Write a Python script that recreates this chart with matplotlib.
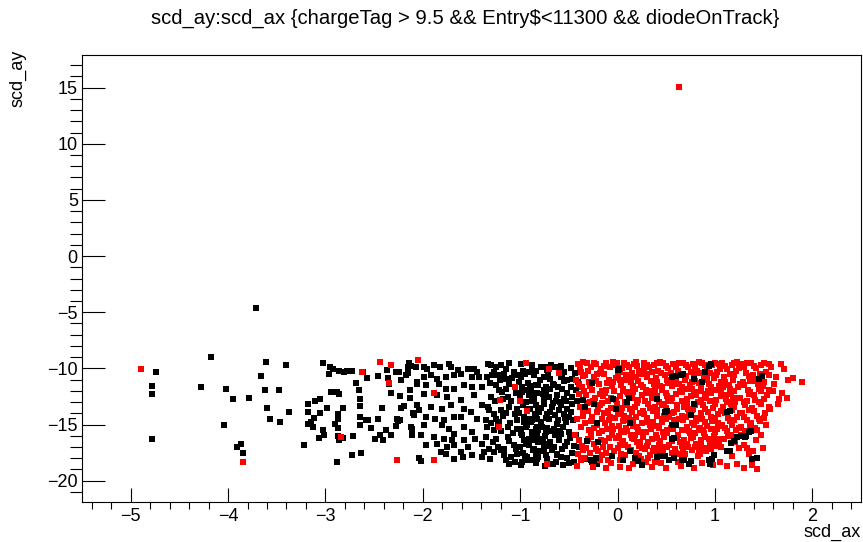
import matplotlib
matplotlib.use('Agg')
import matplotlib.pyplot as plt
from matplotlib.ticker import MultipleLocator

plt.rcParams['font.family'] = ['Liberation Sans', 'DejaVu Sans']

title = 'scd_ay:scd_ax {chargeTag > 9.5 && Entry$<11300 && diodeOnTrack}'

# (scd_ax, scd_ay) pairs, split by region of the scatter
black_far = [
    (-3.71, -4.6), (-4.18, -9.0), (-4.74, -10.3), (-4.78, -11.6), (-4.78, -12.3),
    (-4.78, -16.3), (-4.28, -11.65), (-4.02, -11.8), (-3.95, -12.7), (-4.04, -15.0),
    (-3.78, -12.6), (-3.66, -10.65), (-3.61, -9.46), (-3.40, -9.67), (-3.62, -11.95),
    (-3.48, -11.95), (-3.60, -13.5), (-3.37, -13.9), (-3.57, -14.5), (-3.47, -14.8),
    (-3.87, -16.7), (-3.91, -17.0), (-3.85, -17.55),
]

black_mid = [
    (-3.02, -9.55), (-2.95, -9.9), (-2.96, -10.5), (-2.92, -10.1), (-2.86, -10.2),
    (-2.81, -10.35), (-2.78, -10.2), (-2.73, -10.2), (-2.61, -10.35),
    (-2.14, -9.55), (-2.12, -9.8), (-2.15, -9.9), (-2.28, -10.35), (-2.24, -10.35),
    (-2.17, -10.6), (-2.15, -10.45), (-2.46, -10.7), (-2.37, -10.15), (-2.36, -10.85),
    (-2.35, -11.4), (-2.57, -10.9), (-2.69, -11.3), (-2.66, -11.9), (-2.22, -11.0),
    (-2.06, -11.2), (-2.13, -11.9), (-2.94, -12.1), (-2.88, -12.15), (-2.86, -12.3),
    (-2.33, -12.2), (-2.23, -12.5), (-2.13, -12.6), (-2.64, -12.7), (-3.06, -12.7),
    (-3.11, -12.9), (-3.18, -13.2), (-2.82, -13.5), (-2.98, -13.5), (-2.65, -13.35),
    (-2.42, -13.5), (-2.19, -13.35), (-2.22, -13.5), (-2.10, -14.0), (-2.04, -13.7),
    (-3.18, -13.9), (-3.12, -14.4), (-3.06, -14.0), (-3.15, -14.75), (-2.87, -14.1),
    (-2.87, -14.5), (-2.90, -14.95), (-2.87, -15.3), (-2.65, -14.3), (-2.58, -14.6),
    (-2.56, -14.6), (-2.65, -15.0), (-2.46, -14.55), (-2.53, -15.3), (-2.27, -14.5),
    (-2.25, -14.65), (-2.23, -14.6), (-2.28, -15.1), (-2.12, -15.25), (-3.18, -14.95),
    (-3.13, -15.25), (-3.03, -15.5), (-3.01, -15.9), (-3.07, -16.2), (-2.87, -16.0),
    (-2.86, -16.4), (-2.82, -16.2), (-2.72, -16.0), (-2.49, -16.25), (-2.44, -15.9),
    (-2.38, -15.5), (-2.41, -16.4), (-2.33, -15.9), (-2.11, -15.9), (-3.22, -16.85),
    (-2.73, -17.7), (-2.63, -17.55), (-2.88, -18.3), (-2.04, -18.0),
    # -2.1 .. -0.8
    (-2.07, -9.87), (-1.99, -9.87), (-1.96, -10.02), (-1.88, -9.73), (-1.82, -9.87),
    (-1.73, -9.58), (-1.71, -9.87), (-1.64, -10.17), (-1.54, -10.02), (-1.47, -10.02),
    (-1.44, -10.32), (-1.30, -9.73), (-1.25, -9.87), (-1.20, -9.73), (-1.15, -10.02),
    (-1.29, -10.62), (-1.23, -10.62), (-1.17, -10.47), (-1.06, -10.32), (-0.995, -10.76),
    (-0.91, -10.32), (-0.875, -10.02), (-1.99, -10.76), (-1.92, -10.62), (-1.85, -10.91),
    (-1.76, -10.76), (-1.68, -10.62), (-1.61, -10.47), (-1.49, -10.76), (-1.42, -10.76),
    (-1.34, -10.76), (-1.15, -10.91), (-1.03, -10.62), (-0.96, -10.47),
    (-2.06, -11.36), (-1.97, -11.51), (-1.83, -11.36), (-1.76, -11.8), (-1.68, -11.86),
    (-1.58, -11.51), (-1.49, -11.65), (-1.39, -11.65), (-1.25, -11.51), (-1.22, -11.95),
    (-1.15, -11.8), (-0.98, -11.65), (-0.89, -11.8), (-0.84, -11.51), (-1.99, -12.25),
    (-1.85, -12.4), (-1.75, -12.54), (-1.61, -12.84), (-1.47, -12.4), (-1.30, -12.54),
    (-1.18, -12.69), (-1.13, -12.54), (-0.91, -12.4), (-0.86, -12.84), (-0.94, -12.99),
    (-2.06, -13.28), (-1.92, -13.43), (-1.80, -13.58), (-1.71, -13.28), (-1.58, -13.58),
    (-1.51, -13.88), (-1.39, -13.28), (-1.32, -13.73), (-1.27, -14.03), (-1.20, -13.73),
    (-1.15, -13.94), (-1.03, -13.58), (-0.93, -13.58), (-0.84, -14.03), (-2.09, -14.17),
    (-1.97, -14.32), (-1.87, -14.47), (-1.78, -14.62), (-1.68, -14.32), (-1.61, -14.32),
    (-1.44, -14.47), (-1.35, -14.62), (-1.25, -14.47), (-1.22, -14.77), (-1.03, -14.62),
    (-0.96, -14.77), (-0.89, -14.47), (-0.825, -14.47),
    (-2.11, -15.36), (-1.99, -15.0), (-1.80, -15.06), (-1.73, -15.36), (-1.68, -15.81),
    (-1.58, -15.21), (-1.49, -15.66), (-1.34, -15.21), (-1.27, -15.51), (-1.23, -14.92),
    (-1.13, -15.21), (-1.03, -15.36), (-0.94, -15.21), (-0.875, -15.66), (-0.825, -15.21),
    (-2.02, -15.95), (-1.88, -16.1), (-1.78, -16.25), (-1.70, -16.4), (-1.58, -16.4),
    (-1.46, -16.25), (-1.35, -16.1), (-1.25, -16.25), (-1.13, -16.1), (-0.98, -15.95),
    (-0.91, -16.25),
    (-1.97, -16.84), (-1.85, -16.7), (-1.75, -16.99), (-1.68, -16.84), (-1.54, -16.99),
    (-1.39, -16.78), (-1.32, -17.14), (-1.23, -16.99), (-1.17, -17.14), (-1.06, -16.84),
    (-0.94, -16.7), (-0.86, -17.14), (-1.81, -17.44), (-1.76, -17.59), (-1.61, -17.44),
    (-1.49, -17.73), (-1.37, -17.44), (-1.27, -17.44), (-1.20, -17.29), (-1.03, -17.59),
    (-0.93, -17.88), (-0.84, -17.59), (-2.02, -18.27), (-1.68, -18.03), (-1.59, -17.88),
    (-1.39, -17.88), (-1.15, -18.18), (-1.05, -18.33), (-0.985, -18.33), (-0.93, -18.18),
    (-0.825, -18.03),
]

black_dense = [
    (-0.79, -9.87), (-0.72, -10.17), (-0.64, -9.87), (-0.60, -10.02), (-0.55, -10.32),
    (-0.755, -10.76), (-0.69, -10.91), (-0.585, -10.76), (-0.52, -11.06), (-0.465, -10.91),
    (-0.41, -11.21), (-0.82, -11.51), (-0.74, -11.65), (-0.65, -11.51), (-0.57, -11.8),
    (-0.48, -11.65), (-0.43, -11.95), (-0.86, -12.4), (-0.77, -12.25), (-0.70, -12.54),
    (-0.62, -12.4), (-0.55, -12.69), (-0.465, -12.54), (-0.84, -13.28), (-0.755, -13.14),
    (-0.67, -13.43), (-0.585, -13.28), (-0.52, -13.58), (-0.81, -13.88), (-0.72, -14.03),
    (-0.64, -14.17), (-0.55, -14.03), (-0.48, -13.88), (-0.875, -14.62), (-0.79, -14.77),
    (-0.70, -14.47), (-0.62, -14.92), (-0.53, -14.77), (-0.82, -15.51), (-0.74, -15.66),
    (-0.65, -15.36), (-0.585, -15.81), (-0.50, -15.66), (-0.86, -16.4), (-0.77, -16.25),
    (-0.69, -16.55), (-0.60, -16.4), (-0.755, -17.14), (-0.67, -17.29), (-0.57, -17.14),
    (-0.82, -17.88), (-0.72, -18.03), (-0.62, -17.73), (-0.52, -17.97), (-0.45, -18.33),
    (-0.38, -18.18), (-0.33, -18.03), (-0.26, -18.33), (-0.21, -18.48),
    (-0.95, -10.5), (-0.92, -11.3), (-0.98, -12.1), (-0.90, -13.6), (-0.96, -14.3),
    (-0.93, -15.0), (-0.99, -15.8), (-0.91, -16.8), (-0.97, -17.5), (-0.88, -18.2),
    (-0.84, -10.2), (-0.80, -11.0), (-0.76, -11.9), (-0.86, -12.8), (-0.79, -13.5),
    (-0.85, -14.1), (-0.78, -15.2), (-0.83, -16.0), (-0.76, -16.7), (-0.80, -17.4),
    (-0.68, -9.7), (-0.71, -10.6), (-0.66, -11.4), (-0.73, -12.0), (-0.63, -12.9),
    (-0.69, -13.9), (-0.61, -14.6), (-0.72, -15.3), (-0.64, -15.9), (-0.70, -16.9),
    (-0.62, -17.6), (-0.58, -9.8), (-0.55, -11.1), (-0.52, -12.2), (-0.59, -13.0),
    (-0.50, -14.3), (-0.56, -15.2), (-0.49, -16.2), (-0.54, -16.9), (-0.47, -17.5),
    (-0.44, -10.4), (-0.42, -12.9), (-0.46, -14.6), (-0.43, -15.9), (-0.40, -17.0),
    (-0.66, -18.5), (-0.75, -18.7), (-0.56, -18.6),
    (-1.33, -9.6), (-1.27, -10.3), (-1.21, -11.0), (-1.31, -11.3), (-1.19, -12.1),
    (-1.26, -12.9), (-1.33, -13.4), (-1.18, -14.2), (-1.30, -14.9), (-1.20, -15.6),
    (-1.28, -16.6), (-1.17, -17.7), (-1.31, -18.1),
    (-1.11, -9.5), (-1.08, -10.9), (-1.12, -11.4), (-1.04, -12.2), (-1.09, -12.9),
    (-1.12, -13.4), (-1.05, -14.1), (-1.10, -14.9), (-1.07, -15.8), (-1.11, -16.5),
    (-1.04, -17.2), (-1.09, -17.9), (-1.12, -18.5),
    (-0.99, -9.6), (-0.97, -10.2), (-1.01, -11.2), (-0.95, -11.9), (-1.00, -12.6),
    (-0.97, -13.3), (-1.01, -14.0), (-0.94, -14.5), (-0.99, -15.4), (-0.96, -16.4),
    (-1.00, -17.0), (-0.95, -17.8), (-0.99, -18.6),
    (-0.88, -9.7), (-0.86, -10.6), (-0.90, -11.6), (-0.83, -12.2), (-0.88, -12.9),
    (-0.82, -13.6), (-0.89, -14.8), (-0.84, -15.4), (-0.88, -15.9), (-0.82, -16.6),
    (-0.87, -17.3), (-0.84, -18.4),
    (-0.74, -9.9), (-0.69, -11.8), (-0.76, -12.7), (-0.66, -13.1), (-0.73, -14.4),
    (-0.67, -15.6), (-0.75, -16.0), (-0.65, -17.0), (-0.73, -17.7), (-0.63, -18.3),
    (-0.57, -10.6), (-0.61, -11.7), (-0.53, -12.9), (-0.60, -13.7), (-0.54, -14.4),
    (-0.59, -15.6), (-0.52, -16.6), (-0.58, -17.9), (-0.48, -10.0), (-0.47, -13.2),
    (-0.45, -16.9), (-0.50, -18.4),
]

black_core = [
    (0.94, -9.79), (0.90, -10.32), (0.56, -10.76), (0.65, -10.62), (0.78, -10.91),
    (0.87, -11.21), (1.45, -10.91), (0.41, -12.69), (0.78, -13.14), (0.49, -13.88),
    (0.75, -14.17), (1.12, -13.88), (0.56, -15.06), (0.56, -16.31), (1.16, -16.61),
    (1.23, -16.1), (1.31, -16.1), (1.35, -15.66), (1.12, -17.38), (0.41, -17.88),
    (0.49, -17.79), (0.53, -18.18), (0.58, -17.97), (0.66, -18.18), (0.73, -18.48),
    (0.94, -18.18), (0.97, -18.03), (0.99, -17.73), (0.95, -18.48), (1.38, -18.03),
    (0.01, -10.1), (0.12, -12.6), (-0.02, -13.6), (0.13, -14.9), (0.51, -13.8),
    (0.60, -15.0), (0.58, -16.2), (1.15, -13.8), (-0.20, -16.6), (0.13, -17.4),
    (-0.31, -16.5), (-0.35, -12.8), (1.48, -10.7), (-0.27, -18.13), (-0.22, -17.98),
    (-0.06, -17.83), (0.06, -18.13), (0.18, -17.98), (0.21, -18.28), (0.25, -18.59),
    (0.44, -17.83), (0.68, -18.13), (0.75, -18.28), (1.15, -17.39), (1.20, -16.48),
    (1.27, -16.03), (1.32, -16.03), (1.37, -15.58), (1.43, -17.98), (-0.33, -13.4),
    (-0.26, -11.3), (-0.21, -14.9), (-0.24, -13.14), (0.0, -10.17), (-0.05, -12.69),
    (0.10, -12.99), (0.67, -10.5), (0.60, -10.7), (0.96, -9.6),
]

red_far = [
    (0.63, 15.06), (-4.89, -10.1), (-3.85, -18.3), (-2.44, -9.43), (-2.33, -9.67),
    (-2.05, -9.25), (-2.62, -10.3), (-2.84, -16.1), (-2.35, -11.3), (-2.26, -18.15),
    (-1.88, -18.2), (-1.89, -12.2), (-1.21, -12.8), (-1.0, -12.9), (-1.22, -15.2),
    (-0.93, -13.8), (-0.94, -9.55), (-1.05, -11.7), (-0.70, -10.1), (-0.60, -10.45),
    (-0.72, -18.5),
]

red_main = [
    (-0.41, -9.6), (-0.38, -10.3), (-0.43, -11.0), (-0.37, -11.7), (-0.40, -12.3),
    (-0.36, -13.9), (-0.42, -14.5), (-0.38, -15.2), (-0.44, -15.9), (-0.37, -16.9),
    (-0.41, -17.6), (-0.42, -18.7),
    (-0.31, -9.5), (-0.27, -9.9), (-0.33, -10.6), (-0.29, -11.2), (-0.26, -11.9),
    (-0.32, -12.4), (-0.28, -13.0), (-0.30, -13.8), (-0.26, -14.3), (-0.33, -14.9),
    (-0.29, -15.5), (-0.27, -16.1), (-0.32, -17.1), (-0.28, -17.5), (-0.25, -18.8),
    (-0.22, -9.6), (-0.17, -10.1), (-0.24, -10.8), (-0.19, -11.4), (-0.16, -12.0),
    (-0.23, -12.6), (-0.18, -13.3), (-0.21, -13.9), (-0.16, -14.5), (-0.24, -15.3),
    (-0.19, -15.8), (-0.17, -16.4), (-0.22, -17.2), (-0.16, -17.7), (-0.12, -18.9),
    (-0.12, -9.5), (-0.08, -9.9), (-0.14, -10.5), (-0.09, -11.0), (-0.06, -11.6),
    (-0.13, -12.2), (-0.10, -12.9), (-0.07, -13.5), (-0.14, -14.0), (-0.09, -14.6),
    (-0.11, -15.4), (-0.06, -15.9), (-0.13, -16.5), (-0.08, -17.0), (-0.12, -17.5),
    (-0.07, -18.4),
    (-0.03, -9.7), (0.03, -10.3), (-0.02, -10.9), (0.04, -11.5), (-0.04, -12.0),
    (0.02, -12.5), (-0.01, -13.2), (0.04, -13.9), (-0.03, -14.4), (0.01, -15.1),
    (0.04, -15.6), (-0.02, -16.2), (0.03, -16.8), (-0.04, -17.4), (0.02, -18.75),
    (0.07, -9.5), (0.12, -9.9), (0.09, -10.6), (0.14, -11.2), (0.06, -11.8),
    (0.11, -12.3), (0.08, -13.0), (0.13, -13.6), (0.07, -14.2), (0.12, -14.4),
    (0.09, -15.3), (0.14, -15.9), (0.06, -16.5), (0.11, -17.0), (0.08, -17.7),
    (0.12, -18.85),
    (0.17, -9.6), (0.22, -10.2), (0.19, -10.8), (0.24, -11.5), (0.16, -12.1),
    (0.21, -12.8), (0.18, -13.4), (0.23, -14.0), (0.16, -14.6), (0.20, -15.2),
    (0.24, -15.7), (0.17, -16.3), (0.22, -16.9), (0.19, -17.5), (0.24, -18.1),
    (0.27, -9.5), (0.32, -9.9), (0.29, -10.5), (0.34, -11.1), (0.26, -11.7),
    (0.31, -12.2), (0.28, -12.9), (0.33, -13.5), (0.27, -14.1), (0.30, -14.8),
    (0.34, -15.4), (0.26, -16.0), (0.31, -16.6), (0.28, -17.2), (0.33, -17.7),
    (0.35, -18.8),
    (0.37, -9.7), (0.42, -10.2), (0.39, -10.9), (0.44, -11.6), (0.36, -12.2),
    (0.43, -13.0), (0.38, -13.4), (0.41, -14.2), (0.36, -14.8), (0.43, -15.3),
    (0.39, -15.9), (0.44, -16.5), (0.37, -17.1), (0.42, -17.4), (0.38, -18.3),
    (0.47, -9.5), (0.52, -10.0), (0.49, -10.6), (0.54, -11.3), (0.46, -11.9),
    (0.51, -12.5), (0.48, -13.2), (0.53, -14.3), (0.46, -14.8), (0.51, -15.5),
    (0.48, -16.1), (0.53, -16.8), (0.47, -17.3), (0.50, -18.9),
    (0.57, -9.6), (0.62, -10.2), (0.59, -11.4), (0.64, -12.0), (0.56, -12.6),
    (0.61, -13.3), (0.58, -13.9), (0.63, -14.5), (0.57, -15.4), (0.62, -15.9),
    (0.64, -16.6), (0.59, -17.2), (0.63, -17.6), (0.65, -18.7),
    (0.67, -9.5), (0.72, -9.9), (0.69, -11.0), (0.74, -11.5), (0.66, -12.1),
    (0.71, -12.7), (0.68, -13.4), (0.73, -13.9), (0.67, -14.6), (0.71, -15.2),
    (0.74, -15.8), (0.68, -16.4), (0.72, -17.0), (0.69, -17.6),
    (0.77, -9.6), (0.82, -10.2), (0.79, -10.5), (0.84, -11.3), (0.76, -11.8),
    (0.81, -12.4), (0.83, -13.0), (0.77, -13.6), (0.82, -14.4), (0.79, -15.0),
    (0.84, -15.5), (0.77, -16.1), (0.81, -16.7), (0.84, -17.3), (0.78, -18.85),
    (0.87, -9.5), (0.92, -10.0), (0.89, -10.7), (0.94, -11.4), (0.86, -12.0),
    (0.91, -12.6), (0.88, -13.3), (0.93, -13.9), (0.87, -14.5), (0.92, -15.1),
    (0.89, -15.8), (0.94, -16.3), (0.86, -16.9), (0.91, -17.4),
    (0.97, -9.7), (1.02, -10.3), (0.99, -10.9), (1.04, -11.6), (0.96, -12.2),
    (1.01, -12.8), (0.98, -13.5), (1.03, -14.1), (0.97, -14.7), (1.02, -15.4),
    (0.99, -16.0), (1.04, -16.6), (0.96, -17.2), (0.98, -18.6),
    (1.07, -9.5), (1.12, -10.1), (1.09, -10.8), (1.14, -11.5), (1.06, -12.0),
    (1.11, -12.7), (1.08, -13.4), (1.13, -14.4), (1.07, -15.0), (1.12, -15.6),
    (1.09, -16.3), (1.06, -17.0), (1.12, -18.7),
    (1.17, -9.7), (1.22, -10.2), (1.19, -11.0), (1.24, -11.7), (1.16, -12.3),
    (1.21, -13.0), (1.18, -13.7), (1.23, -14.3), (1.17, -15.0), (1.22, -15.5),
    (1.25, -17.1),
    (1.27, -9.6), (1.32, -10.4), (1.29, -11.2), (1.34, -11.9), (1.26, -12.6),
    (1.31, -13.3), (1.28, -14.0), (1.33, -14.6), (1.27, -15.2), (1.30, -16.8),
    (1.30, -18.9),
    (1.37, -9.5), (1.42, -10.0), (1.39, -10.6), (1.44, -11.4), (1.36, -12.1),
    (1.41, -12.8), (1.38, -13.5), (1.43, -14.2), (1.37, -14.9), (1.42, -16.4),
    (1.39, -17.4), (1.43, -18.95),
    (1.47, -9.7), (1.52, -10.3), (1.49, -11.6), (1.53, -12.4), (1.47, -13.2),
    (1.51, -14.0), (1.46, -14.7),
    (1.58, -9.9), (1.63, -10.8), (1.60, -12.0), (1.66, -12.7), (1.57, -13.6),
    (1.71, -10.1), (1.75, -11.0), (1.69, -12.2), (1.89, -11.2), (1.80, -10.9),
    (1.68, -9.6),
]

red_fill = [
    (-0.39, -9.9), (-0.35, -10.7), (-0.40, -11.4), (-0.34, -12.0), (-0.39, -13.4),
    (-0.35, -14.2), (-0.40, -16.4), (-0.35, -17.3), (-0.38, -18.2),
    (-0.24, -9.5), (-0.30, -10.2), (-0.22, -11.1), (-0.28, -11.6), (-0.25, -12.9),
    (-0.20, -13.6), (-0.27, -14.7), (-0.21, -15.0), (-0.30, -16.3), (-0.24, -16.7),
    (-0.20, -17.4),
    (-0.14, -9.8), (-0.18, -10.4), (-0.11, -11.3), (-0.15, -12.5), (-0.07, -12.6),
    (-0.16, -13.1), (-0.10, -13.8), (-0.13, -14.9), (-0.06, -15.1), (-0.16, -15.6),
    (-0.09, -16.2), (-0.15, -17.0), (-0.10, -18.2),
    (-0.01, -9.5), (0.05, -10.0), (0.00, -10.6), (-0.05, -11.2), (0.06, -12.0),
    (-0.02, -12.8), (0.05, -13.5), (0.00, -14.1), (0.06, -14.7), (-0.05, -15.4),
    (0.01, -16.0), (0.05, -16.5), (0.00, -17.1), (0.04, -17.6),
    (0.10, -9.7), (0.15, -10.4), (0.08, -11.0), (0.16, -11.6), (0.10, -12.1),
    (0.15, -12.6), (0.10, -13.3), (0.15, -13.9), (0.09, -14.6), (0.16, -15.1),
    (0.10, -15.6), (0.15, -16.2), (0.08, -16.8), (0.14, -17.3),
    (0.20, -9.8), (0.25, -10.5), (0.21, -11.1), (0.18, -11.8), (0.25, -12.4),
    (0.20, -13.1), (0.26, -13.8), (0.19, -14.3), (0.25, -14.9), (0.21, -15.5),
    (0.26, -16.1), (0.20, -16.6), (0.25, -17.1), (0.22, -17.8),
    (0.30, -9.7), (0.35, -10.3), (0.30, -10.8), (0.37, -11.4), (0.29, -11.9),
    (0.35, -12.6), (0.31, -13.2), (0.36, -13.8), (0.30, -14.4), (0.37, -15.1),
    (0.29, -15.7), (0.35, -16.3), (0.30, -16.9), (0.36, -17.4), (0.31, -18.0),
    (0.40, -9.5), (0.45, -10.4), (0.41, -11.2), (0.46, -11.7), (0.40, -12.5),
    (0.46, -13.3), (0.41, -13.7), (0.46, -14.5), (0.40, -15.1), (0.47, -15.7),
    (0.41, -16.2), (0.46, -17.0), (0.40, -17.7),
    (0.50, -9.8), (0.55, -10.4), (0.51, -11.0), (0.56, -11.6), (0.50, -12.2),
    (0.55, -12.9), (0.50, -13.5), (0.56, -14.0), (0.50, -14.5), (0.55, -15.3),
    (0.51, -15.8), (0.56, -16.5), (0.51, -17.0), (0.56, -17.5),
    (0.60, -9.9), (0.65, -10.5), (0.60, -11.1), (0.66, -11.7), (0.60, -12.3),
    (0.66, -12.9), (0.61, -13.6), (0.66, -14.2), (0.60, -14.8), (0.66, -15.5),
    (0.61, -16.2), (0.66, -16.9), (0.60, -17.5),
    (0.70, -9.7), (0.75, -10.3), (0.70, -10.7), (0.76, -11.2), (0.70, -11.8),
    (0.75, -12.5), (0.71, -13.1), (0.76, -13.7), (0.70, -14.3), (0.76, -14.9),
    (0.70, -15.5), (0.75, -16.2), (0.71, -16.7), (0.76, -17.3),
    (0.80, -9.8), (0.85, -10.4), (0.80, -11.1), (0.86, -11.6), (0.80, -12.1),
    (0.86, -12.8), (0.80, -13.3), (0.86, -14.0), (0.81, -14.7), (0.85, -15.3),
    (0.80, -15.8), (0.86, -16.4), (0.80, -17.0), (0.85, -17.6),
    (0.90, -9.7), (0.95, -10.4), (0.90, -11.0), (0.96, -11.7), (0.90, -12.3),
    (0.95, -12.9), (0.90, -13.6), (0.96, -14.3), (0.90, -14.8), (0.96, -15.4),
    (0.90, -16.1), (0.95, -16.8), (0.90, -17.1),
    (1.00, -9.5), (1.05, -10.1), (1.01, -10.6), (1.06, -11.2), (1.00, -11.9),
    (1.06, -12.5), (1.00, -13.2), (1.06, -13.8), (1.00, -14.4), (1.05, -15.1),
    (1.00, -15.7), (1.05, -16.3), (1.01, -16.9),
    (1.10, -9.8), (1.15, -10.5), (1.10, -11.2), (1.15, -11.8), (1.10, -12.4),
    (1.16, -13.2), (1.10, -14.0), (1.15, -14.7), (1.10, -15.3), (1.16, -15.9),
    (1.20, -9.5), (1.25, -10.0), (1.20, -10.6), (1.26, -11.4), (1.20, -12.0),
    (1.25, -12.6), (1.20, -13.4), (1.26, -14.0), (1.20, -14.6), (1.25, -15.3),
    (1.21, -16.6),
    (1.30, -9.9), (1.35, -10.7), (1.30, -11.5), (1.35, -12.3), (1.30, -13.0),
    (1.35, -13.7), (1.30, -14.3), (1.36, -15.0), (1.31, -15.6), (1.35, -17.6),
    (1.40, -9.8), (1.46, -10.5), (1.40, -11.1), (1.45, -11.8), (1.40, -12.4),
    (1.45, -13.0), (1.40, -13.8), (1.45, -14.5), (1.41, -15.3),
    (1.50, -9.5), (1.55, -10.6), (1.50, -11.2), (1.55, -11.9), (1.50, -12.7),
    (1.55, -13.4), (1.50, -14.4),
    (-0.36, -9.4), (-0.21, -10.5), (-0.05, -9.4), (0.19, -9.45), (0.44, -9.45),
    (0.63, -9.5), (0.84, -9.45), (1.04, -9.6), (1.23, -9.45), (1.33, -9.5),
    (1.56, -9.6), (-0.31, -13.1), (-0.12, -11.9), (0.02, -11.0), (0.13, -10.9),
    (0.27, -10.1), (0.38, -11.9), (0.52, -12.9), (0.63, -11.4), (0.78, -12.2),
    (0.93, -12.0), (1.08, -11.7), (1.19, -12.6), (1.33, -12.9), (1.47, -12.0),
    (-0.27, -15.8), (-0.08, -14.3), (0.07, -15.7), (0.18, -15.9), (0.33, -15.0),
    (0.48, -14.2), (0.58, -14.6), (0.73, -15.6), (0.88, -15.5), (1.03, -14.9),
    (1.13, -16.0), (1.28, -15.9), (1.43, -15.5), (-0.34, -18.0), (-0.18, -18.2),
    (0.03, -18.2), (0.16, -18.5), (0.29, -18.35), (0.45, -18.4), (0.62, -18.3),
    (0.87, -18.4), (1.05, -18.3), (1.23, -18.5), (1.38, -18.6), (0.23, -16.6),
    (0.43, -16.8), (0.67, -17.3), (0.83, -17.8), (0.98, -16.4), (1.18, -17.8),
    (1.33, -17.1), (-0.18, -12.3), (0.32, -12.0), (0.72, -13.6), (1.12, -13.0),
    (0.52, -11.3), (0.92, -10.9), (1.36, -11.1), (1.61, -11.4), (1.74, -12.6),
    (1.65, -13.2), (1.52, -15.0), (1.47, -15.9), (1.49, -17.1),
]

fig = plt.figure(figsize=(8.63, 5.42), dpi=100)
ax = fig.add_axes([0.095, 0.0738, 0.9027, 0.8247])


def draw(pts, color):
    xs = [p[0] for p in pts]
    ys = [p[1] for p in pts]
    ax.plot(xs, ys, 's', color=color, ms=3.9, mew=0, linestyle='none')


draw(black_far, 'black')
draw(black_mid, 'black')
draw(black_dense, 'black')
draw(red_main, 'red')
draw(red_fill, 'red')
draw(red_far, 'red')
draw(black_core, 'black')

ax.set_xlim(-5.5, 2.5)
ax.set_ylim(-21.9, 17.9)
ax.xaxis.set_major_locator(MultipleLocator(1))
ax.xaxis.set_minor_locator(MultipleLocator(0.2))
ax.yaxis.set_major_locator(MultipleLocator(5))
ax.yaxis.set_minor_locator(MultipleLocator(1))
ax.tick_params(direction='in', top=False, right=False, colors='black', labelsize=13)
ax.tick_params(axis='x', which='major', length=10, width=0.8, pad=4)
ax.tick_params(axis='x', which='minor', length=5, width=0.8)
ax.tick_params(axis='y', which='major', length=16.5, width=0.8, pad=3)
ax.tick_params(axis='y', which='minor', length=8.3, width=0.8)
for s in ax.spines.values():
    s.set_linewidth(0.8)

fig.text(0.539, 1 - 18 / 542, title, ha='center', va='center', fontsize=14.6)
fig.text(18 / 863, 1 - 50 / 542, 'scd_ay', rotation=90, ha='center', va='top', fontsize=13)
fig.text(861 / 863, 1 - 524 / 542, 'scd_ax', ha='right', va='top', fontsize=13)

fig.savefig('out.png', dpi=100)
